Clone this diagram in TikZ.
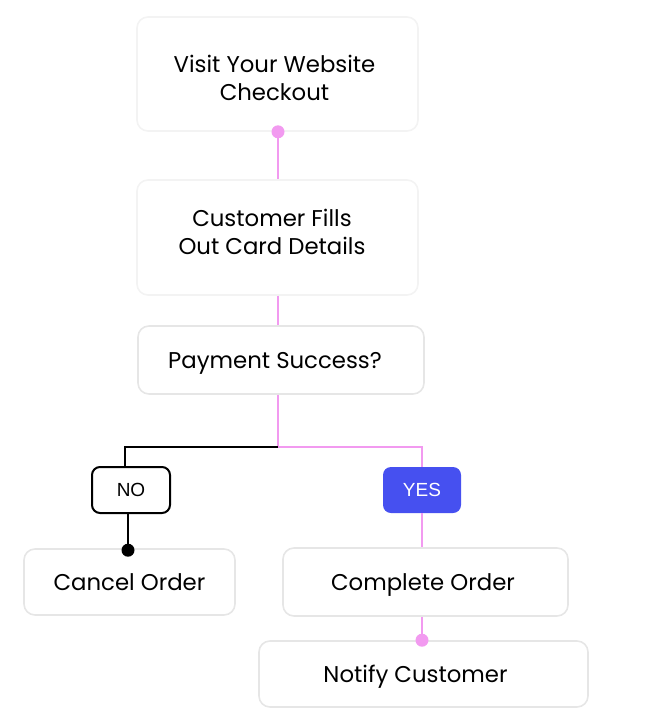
\documentclass[tikz,border=0pt]{standalone}
\usepackage{fontspec}
\setmainfont{Poppins}
\newfontfamily\tagfont{Liberation Sans}
\usetikzlibrary{positioning}

\definecolor{linkpink}{HTML}{F29AF0}
\definecolor{yesblue}{HTML}{4650F0}
\definecolor{boxline}{HTML}{E6E6E6}
\definecolor{faintline}{HTML}{F3F3F3}

\begin{document}
\begin{tikzpicture}[x=1pt,y=-1pt,
  stepbox/.style={draw=boxline, line width=1.6pt, rounded corners=11pt,
    align=center, inner sep=0pt, font=\fontsize{22.8}{28}\selectfont},
  onerow/.style={stepbox, text height=16pt, text depth=0pt},
  faintbox/.style={stepbox, draw=faintline},
  tagbox/.style={rounded corners=8pt, inner sep=0pt, minimum width=78pt,
    minimum height=46pt, text height=13pt, text depth=0pt,
    font=\tagfont\fontsize{19}{20}\selectfont},
  pinkline/.style={draw=linkpink, line width=2pt},
  blackline/.style={draw=black, line width=2.2pt}]

% Page size
\useasboundingbox (0,0) rectangle (660,725);

% Steps
\node[faintbox, minimum width=281pt, minimum height=114pt] (visit) at (277.5,74)
  {\rule{0pt}{25pt}Visit Your Website\hspace*{6pt}\\Checkout\hspace*{6pt}};
\node[faintbox, minimum width=281pt, minimum height=115pt] (fills) at (277.5,237.5)
  {Customer Fills\hspace*{11pt}\\Out Card Details\hspace*{11pt}\rule[-12pt]{0pt}{0pt}};
\node[onerow, minimum width=286pt, minimum height=68pt] (payment) at (281,360)
  {Payment Success?\hspace*{12pt}};

% Answers
\node[tagbox, draw=black, line width=2pt] (no) at (131,490) {NO};
\node[tagbox, fill=yesblue, text=white] (yes) at (422,490) {YES};

% Results
\node[onerow, minimum width=211pt, minimum height=66pt] (cancel) at (129.5,582)
  {Cancel Order};
\node[onerow, minimum width=285pt, minimum height=68pt] (complete) at (425.5,582)
  {Complete Order\hspace*{5pt}};
\node[onerow, minimum width=329pt, minimum height=66pt] (notify) at (423.5,674)
  {Notify Customer\hspace*{16pt}};

% Split point under the question
\coordinate (split) at (278,447);
\coordinate (nohead) at ([xshift=-6pt]no.north);
\coordinate (nofoot) at ([xshift=-3pt]no.south);

% Connectors
\draw[pinkline] (visit.south -| split) -- (fills.north -| split);
\fill[linkpink] (visit.south -| split) circle (6.5pt);
\draw[pinkline] (fills.south -| split) -- (payment.north -| split);
\draw[pinkline] (payment.south -| split) -- (split) -| (yes.north);
\draw[pinkline] (yes.south) -- (complete.north -| yes.south);
\draw[pinkline] (complete.south -| yes.south) -- (notify.north -| yes.south);
\fill[linkpink] (notify.north -| yes.south) circle (6.5pt);
\draw[blackline] (split) -| (nohead);
\draw[blackline] (nofoot) -- (cancel.north -| nofoot);
\fill (cancel.north -| nofoot) ++(0,2) circle (6.5pt);

\end{tikzpicture}
\end{document}
